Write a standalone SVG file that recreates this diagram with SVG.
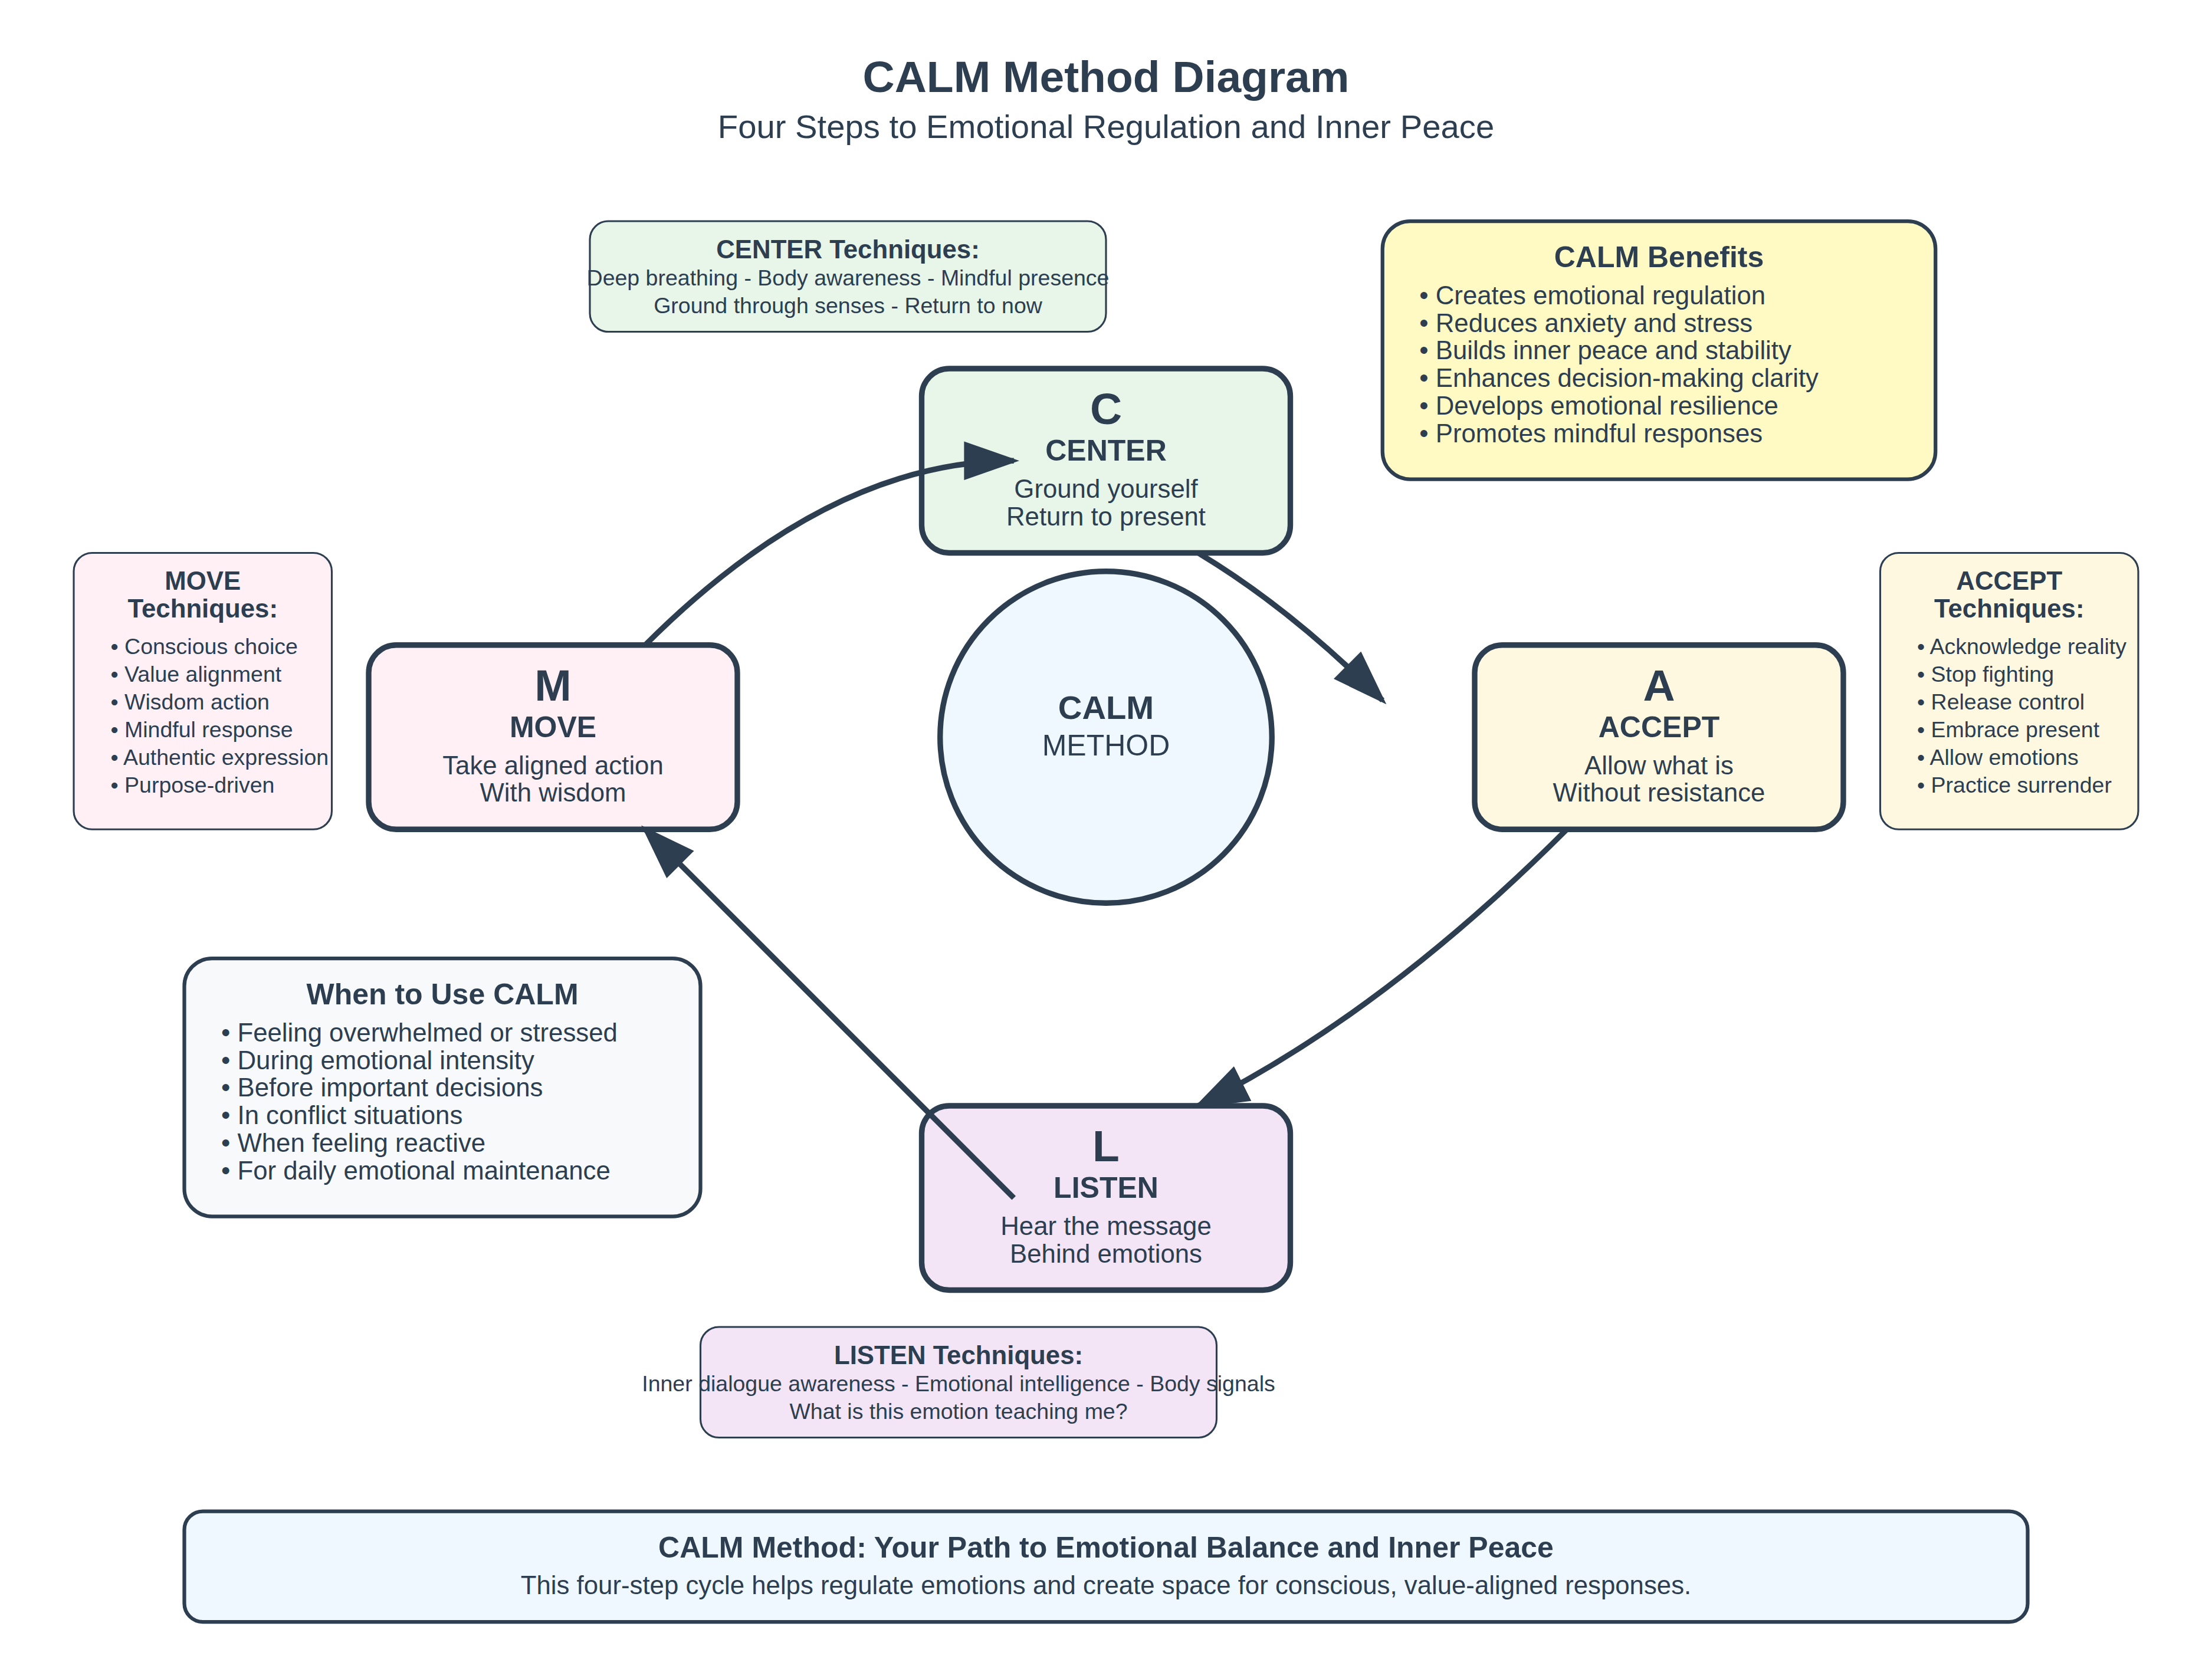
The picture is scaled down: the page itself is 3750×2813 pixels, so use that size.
<svg xmlns="http://www.w3.org/2000/svg" width="3750" height="2813" viewBox="0 0 3750 2813">
<defs>
<style>
text{font-family:"Liberation Sans",Arial,Helvetica,sans-serif;fill:#2c3e50}
.t{font-size:24px;font-weight:bold;text-anchor:middle}
.sub{font-size:18px;text-anchor:middle}
.node{stroke:#2c3e50;stroke-width:3}
.letter{font-size:24px;font-weight:bold;text-anchor:middle}
.name{font-size:16px;font-weight:bold;text-anchor:middle}
.desc{font-size:14px;text-anchor:middle}
.tech{stroke:#2c3e50;stroke-width:1}
.th{font-size:14px;font-weight:bold;text-anchor:middle}
.tl{font-size:12px;text-anchor:middle}
.tb{font-size:12px}
.info{stroke:#2c3e50;stroke-width:2}
.ih{font-size:16px;font-weight:bold;text-anchor:middle}
.ib{font-size:14px}
.ibc{font-size:14px;text-anchor:middle}
.conn{fill:none;stroke:#2c3e50;stroke-width:3}
</style>
<marker id="arrow" markerWidth="10" markerHeight="7" refX="9" refY="3.5" orient="auto"><polygon points="0 0, 10 3.5, 0 7" fill="#2c3e50"/></marker>
</defs>
<rect width="3750" height="2813" fill="#ffffff"/>
<g transform="scale(3.125)">
<g id="title">
<text class="t" x="600" y="50">CALM Method Diagram</text>
<text class="sub" x="600" y="75">Four Steps to Emotional Regulation and Inner Peace</text>
</g>

<g id="center-techniques">
<rect class="tech" x="320" y="120" width="280" height="60" rx="10" fill="#e8f5e9"/>
<text class="th" x="460" y="140">CENTER Techniques:</text>
<text class="tl" x="460" y="155">Deep breathing - Body awareness - Mindful presence</text>
<text class="tl" x="460" y="170">Ground through senses - Return to now</text>
</g>

<g id="calm-benefits">
<rect class="info" x="750" y="120" width="300" height="140" rx="15" fill="#fff9c4"/>
<text class="ih" x="900" y="145">CALM Benefits</text>
<text class="ib" x="770" y="165">• Creates emotional regulation</text>
<text class="ib" x="770" y="180">• Reduces anxiety and stress</text>
<text class="ib" x="770" y="195">• Builds inner peace and stability</text>
<text class="ib" x="770" y="210">• Enhances decision-making clarity</text>
<text class="ib" x="770" y="225">• Develops emotional resilience</text>
<text class="ib" x="770" y="240">• Promotes mindful responses</text>
</g>

<g id="move-techniques">
<rect class="tech" x="40" y="300" width="140" height="150" rx="10" fill="#fff0f5"/>
<text class="th" x="110" y="320">MOVE</text>
<text class="th" x="110" y="335">Techniques:</text>
<text class="tb" x="60" y="355">• Conscious choice</text>
<text class="tb" x="60" y="370">• Value alignment</text>
<text class="tb" x="60" y="385">• Wisdom action</text>
<text class="tb" x="60" y="400">• Mindful response</text>
<text class="tb" x="60" y="415">• Authentic expression</text>
<text class="tb" x="60" y="430">• Purpose-driven</text>
</g>

<g id="accept-techniques">
<rect class="tech" x="1020" y="300" width="140" height="150" rx="10" fill="#fff8e1"/>
<text class="th" x="1090" y="320">ACCEPT</text>
<text class="th" x="1090" y="335">Techniques:</text>
<text class="tb" x="1040" y="355">• Acknowledge reality</text>
<text class="tb" x="1040" y="370">• Stop fighting</text>
<text class="tb" x="1040" y="385">• Release control</text>
<text class="tb" x="1040" y="400">• Embrace present</text>
<text class="tb" x="1040" y="415">• Allow emotions</text>
<text class="tb" x="1040" y="430">• Practice surrender</text>
</g>

<g id="when-to-use">
<rect class="info" x="100" y="520" width="280" height="140" rx="15" fill="#f8f9fa"/>
<text class="ih" x="240" y="545">When to Use CALM</text>
<text class="ib" x="120" y="565">• Feeling overwhelmed or stressed</text>
<text class="ib" x="120" y="580">• During emotional intensity</text>
<text class="ib" x="120" y="595">• Before important decisions</text>
<text class="ib" x="120" y="610">• In conflict situations</text>
<text class="ib" x="120" y="625">• When feeling reactive</text>
<text class="ib" x="120" y="640">• For daily emotional maintenance</text>
</g>

<g id="listen-techniques">
<rect class="tech" x="380" y="720" width="280" height="60" rx="10" fill="#f3e5f5"/>
<text class="th" x="520" y="740">LISTEN Techniques:</text>
<text class="tl" x="520" y="755">Inner dialogue awareness - Emotional intelligence - Body signals</text>
<text class="tl" x="520" y="770">What is this emotion teaching me?</text>
</g>

<g id="calm-circle">
<circle class="node" cx="600" cy="400" r="90" fill="#f0f8ff"/>
<text class="name" x="600" y="390" style="font-size:18px">CALM</text>
<text class="desc" x="600" y="410" style="font-size:16px">METHOD</text>
</g>

<g id="node-center">
<rect class="node" x="500" y="200" width="200" height="100" rx="15" fill="#e8f5e9"/>
<text class="letter" x="600" y="230">C</text>
<text class="name" x="600" y="250">CENTER</text>
<text class="desc" x="600" y="270">Ground yourself</text>
<text class="desc" x="600" y="285">Return to present</text>
</g>

<g id="node-accept">
<rect class="node" x="800" y="350" width="200" height="100" rx="15" fill="#fff8e1"/>
<text class="letter" x="900" y="380">A</text>
<text class="name" x="900" y="400">ACCEPT</text>
<text class="desc" x="900" y="420">Allow what is</text>
<text class="desc" x="900" y="435">Without resistance</text>
</g>

<g id="node-listen">
<rect class="node" x="500" y="600" width="200" height="100" rx="15" fill="#f3e5f5"/>
<text class="letter" x="600" y="630">L</text>
<text class="name" x="600" y="650">LISTEN</text>
<text class="desc" x="600" y="670">Hear the message</text>
<text class="desc" x="600" y="685">Behind emotions</text>
</g>

<g id="node-move">
<rect class="node" x="200" y="350" width="200" height="100" rx="15" fill="#fff0f5"/>
<text class="letter" x="300" y="380">M</text>
<text class="name" x="300" y="400">MOVE</text>
<text class="desc" x="300" y="420">Take aligned action</text>
<text class="desc" x="300" y="435">With wisdom</text>
</g>

<g id="connectors">
<path class="conn" d="M 350 350 Q 450 250 550 250" marker-end="url(#arrow)"/>
<path class="conn" d="M 650 300 Q 700 330 750 380" marker-end="url(#arrow)"/>
<path class="conn" d="M 850 450 Q 750 550 650 600" marker-end="url(#arrow)"/>
<path class="conn" d="M 550 650 L 350 450" marker-end="url(#arrow)"/>
</g>

<g id="footer">
<rect class="info" x="100" y="820" width="1000" height="60" rx="10" fill="#f0f8ff"/>
<text class="ih" x="600" y="845">CALM Method: Your Path to Emotional Balance and Inner Peace</text>
<text class="ibc" x="600" y="865">This four-step cycle helps regulate emotions and create space for conscious, value-aligned responses.</text>
</g>
</g>
</svg>
